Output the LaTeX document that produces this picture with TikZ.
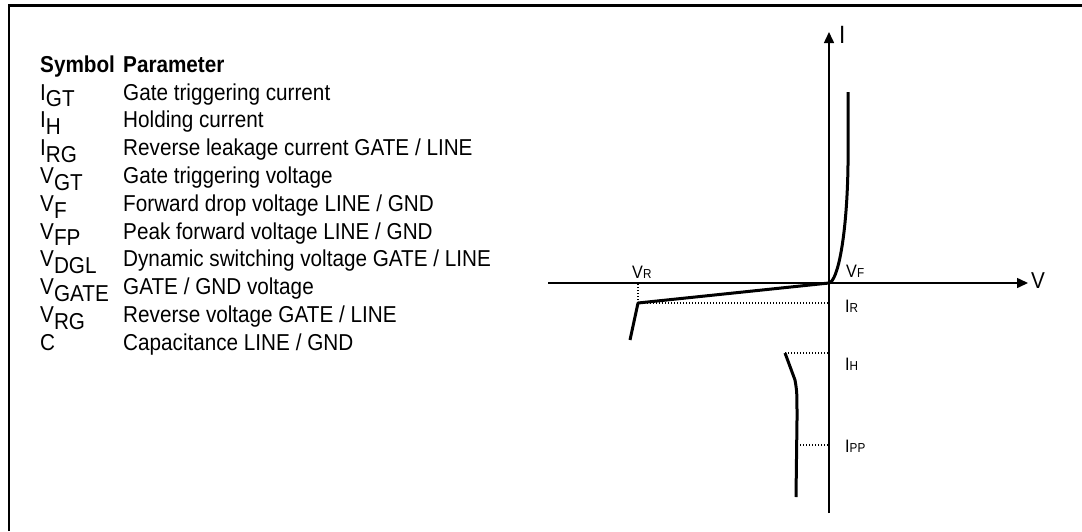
\documentclass[tikz,border=0pt]{standalone}
\usepackage{fontspec}
\setmainfont{Liberation Sans}[FakeStretch=0.9]
\usetikzlibrary{arrows.meta,positioning,calc}

\newcommand{\symb}[2]{#1\raisebox{-0.3em}{#2}}
\newcommand{\glab}[2]{#1{\fontsize{13}{13}\selectfont #2}}

\begin{document}
\begin{tikzpicture}[x=1pt,y=-1pt,
  txt/.style={font=\fontsize{23}{27}\selectfont, anchor=base west, inner sep=0pt},
  gl/.style={font=\fontsize{18}{18}\selectfont, anchor=base west, inner sep=0pt},
  axis/.style={line width=1.5pt, -{Triangle[length=11pt,width=10pt]}},
  curve/.style={line width=3pt, line join=round},
  lvl/.style={line width=1.4pt, dash pattern=on 1.4pt off 1.6pt}]
  \useasboundingbox (0,0) rectangle (1082,531);

  % Frame
  \draw[line width=2.5pt] (9,531) -- (9,5.5) -- (1082,5.5);

  % Legend
  \node[txt, font=\fontsize{23}{27}\selectfont\bfseries] (hsym) at (40,72.2) {Symbol};
  \node[txt, font=\fontsize{23}{27}\selectfont\bfseries] (hpar) at (123,72.2) {Parameter};
  \node[txt] (s1) at (40,100.0) {\symb{I}{GT}};
  \node[txt] (p1) at (123,100.0) {Gate triggering current};
  \node[txt] (s2) at (40,127.8) {\symb{I}{H}};
  \node[txt] (p2) at (123,127.8) {Holding current};
  \node[txt] (s3) at (40,155.6) {\symb{I}{RG}};
  \node[txt] (p3) at (123,155.6) {Reverse leakage current GATE / LINE};
  \node[txt] (s4) at (40,183.4) {\symb{V}{GT}};
  \node[txt] (p4) at (123,183.4) {Gate triggering voltage};
  \node[txt] (s5) at (40,211.2) {\symb{V}{F}};
  \node[txt] (p5) at (123,211.2) {Forward drop voltage LINE / GND};
  \node[txt] (s6) at (40,239.0) {\symb{V}{FP}};
  \node[txt] (p6) at (123,239.0) {Peak forward voltage LINE / GND};
  \node[txt] (s7) at (40,266.8) {\symb{V}{DGL}};
  \node[txt] (p7) at (123,266.8) {Dynamic switching voltage GATE / LINE};
  \node[txt] (s8) at (40,294.6) {\symb{V}{GATE}};
  \node[txt] (p8) at (123,294.6) {GATE / GND voltage};
  \node[txt] (s9) at (40,322.4) {\symb{V}{RG}};
  \node[txt] (p9) at (123,322.4) {Reverse voltage GATE / LINE};
  \node[txt] (s10) at (40,350.2) {C};
  \node[txt] (p10) at (123,350.2) {Capacitance LINE / GND};

  % Axes
  \coordinate (O) at (829,283);
  \coordinate (itop) at (829,32);
  \coordinate (ibot) at (829,513);
  \coordinate (vleft) at (548,283);
  \coordinate (vright) at (1028,283);
  \draw[axis] (ibot) -- (itop);
  \draw[axis] (vleft) -- (vright);
  \node[txt, font=\fontsize{25}{25}\selectfont] (ilbl) at (839,43) {I};
  \node[txt] (vlbl) at (1031,288) {V};

  % Characteristic
  \coordinate (rknee) at (638,303);
  \coordinate (hold) at (785,353);
  \coordinate (ipp) at (797,445);
  \draw[curve] (O) .. controls (838,281) and (847,235) .. (848,165) -- (848,92);
  \draw[curve] (O) -- (rknee) -- (630,340);
  \draw[curve] (hold) -- (795,380) .. controls (797,392) .. (797,420) -- (796,497);

  % Levels
  \draw[lvl] (rknee) -- (rknee |- O);
  \draw[lvl] (rknee) -- (rknee -| O);
  \draw[lvl] (hold) -- (hold -| O);
  \draw[lvl] (ipp) -- (ipp -| O);

  % Labels
  \node[gl] (vf) at (846,277) {\glab{V}{F}};
  \node[gl] (vr) at (632,278) {\glab{V}{R}};
  \node[gl] (ir) at (845,312) {\glab{I}{R}};
  \node[gl] (ih) at (845,370) {\glab{I}{H}};
  \node[gl] (ippl) at (845,452) {\glab{I}{PP}};
\end{tikzpicture}
\end{document}
